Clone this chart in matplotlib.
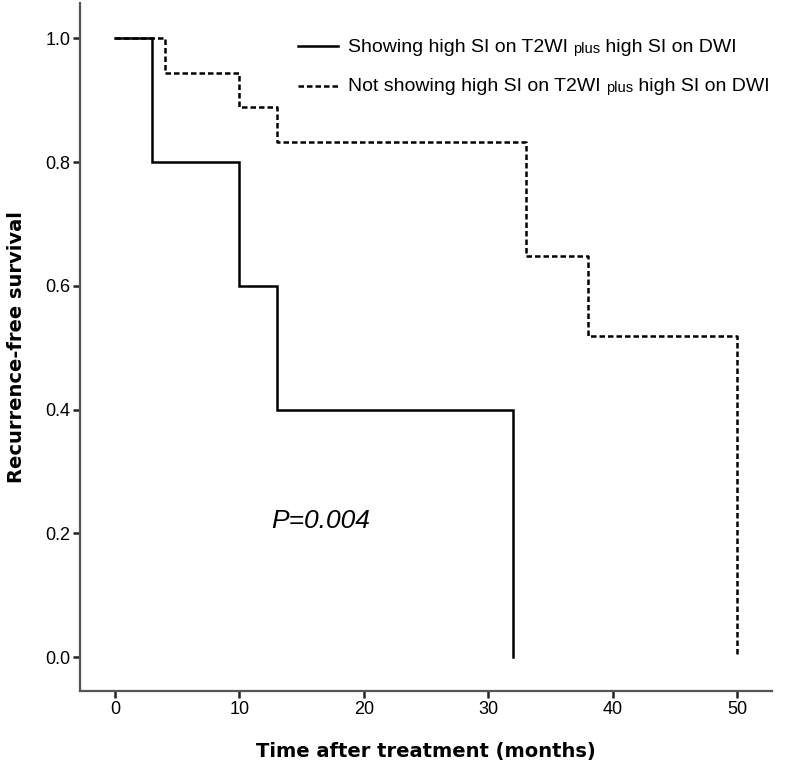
import matplotlib
matplotlib.use("Agg")
import matplotlib.pyplot as plt
import numpy as np

# Kaplan-Meier step data (time in months, survival)
pos_times = [0, 3, 10, 13, 32]
pos_surv = [1.0, 0.8, 0.6, 0.4, 0.0]
neg_times = [0, 4, 10, 13, 33, 38, 50]
neg_surv = [1.0, 0.944, 0.889, 0.833, 0.648, 0.519, 0.0]

x_ticks = [0, 10, 20, 30, 40, 50]
y_ticks = [0.0, 0.2, 0.4, 0.6, 0.8, 1.0]

label_pos = ["Showing high SI on T2WI ", "plus", " high SI on DWI"]
label_neg = ["Not showing high SI on T2WI ", "plus", " high SI on DWI"]
p_text = "P=0.004"

plt.rcParams['font.family'] = ['Liberation Sans', 'DejaVu Sans']

fig = plt.figure(figsize=(8, 7.74), dpi=100)
ax = fig.add_axes([0.1, 0.107, 0.865, 0.889])

# survival curves: hold value until next event, then drop
def steps(t, s):
    xs, ys = [t[0]], [s[0]]
    for i in range(1, len(t)):
        xs += [t[i], t[i]]
        ys += [s[i - 1], s[i]]
    return xs, ys

xs, ys = steps(pos_times, pos_surv)
ax.plot(xs, ys, color='black', lw=1.8, solid_joinstyle='miter')
xs, ys = steps(neg_times, neg_surv)
ax.plot(xs, ys, color='black', lw=1.8, ls=(0, (2.2, 1.2)))

ax.set_xlim(-2.8, 52.8)
ax.set_ylim(-0.055, 1.057)
ax.set_xticks(x_ticks)
ax.set_xticklabels([str(v) for v in x_ticks])
ax.set_yticks(y_ticks)
ax.set_yticklabels(["%.1f" % v for v in y_ticks])

for side in ['top', 'right']:
    ax.spines[side].set_visible(False)
for side in ['left', 'bottom']:
    ax.spines[side].set_color('#555555')
    ax.spines[side].set_linewidth(1.6)
ax.tick_params(direction='out', length=5, width=1.8, color='#222222',
               labelsize=13, pad=2)

ax.set_xlabel("Time after treatment (months)", family='DejaVu Sans',
              fontweight='bold', fontsize=14, labelpad=17)
ax.set_ylabel("Recurrence-free survival", family='DejaVu Sans',
              fontweight='bold', fontsize=14, labelpad=14)

# p value
ax.text(12.6, 0.22, p_text, fontsize=19, style='italic', ha='left', va='center')

# hand-made legend (small "plus" inside the labels)
def legend_row(y, ls, parts):
    ax.plot([14.7, 17.9], [y + 0.008, y + 0.008], color='black', lw=1.8, ls=ls,
            transform=ax.get_xaxis_transform())
    t = ax.text(18.7, y, parts[0], fontsize=14, va='baseline',
                transform=ax.get_xaxis_transform())
    t = ax.annotate(parts[1], xy=(1, 0), xycoords=t, fontsize=10.5,
                    va='bottom', ha='left')
    ax.annotate(parts[2], xy=(1, 0), xycoords=t, fontsize=14,
                va='bottom', ha='left')

legend_row(0.929, '-', label_pos)
legend_row(0.872, (0, (2.2, 1.2)), label_neg)

fig.savefig("out.png", dpi=100)
